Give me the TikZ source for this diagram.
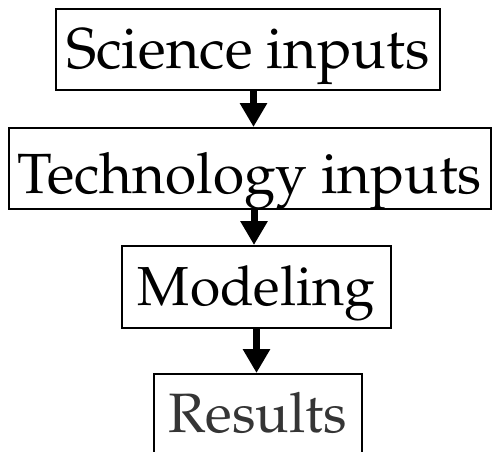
\documentclass[tikz,border=0pt]{standalone}
\usepackage[T1]{fontenc}
\usepackage{mathpazo}
\usetikzlibrary{arrows.meta}
\definecolor{resgray}{HTML}{353535}
\tikzset{
  box/.style={draw=black, line width=1.6pt, inner sep=0pt, anchor=north west},
  flow/.style={line width=7pt, -{Triangle[length=24pt,width=26pt]}},
}
\begin{document}
\begin{tikzpicture}[x=1pt,y=1pt]
\useasboundingbox (0,0) rectangle (493,-451);
\clip (0,0) rectangle (493,-451);
\node[box, minimum width=384pt, minimum height=81pt] (sci) at (55,-8) {};
\node[font=\fontsize{57.5}{64}\selectfont, anchor=base] (scit) at (sci.center |- 0,-68) {Science inputs};
\node[box, minimum width=482pt, minimum height=81pt] (tec) at (8,-127) {};
\node[font=\fontsize{56.7}{64}\selectfont, anchor=base] (tect) at (tec.center |- 0,-193) {Technology inputs};
\node[box, minimum width=269pt, minimum height=82pt] (mod) at (121,-245) {};
\node[font=\fontsize{55}{62}\selectfont, anchor=base] (modt) at (mod.center |- 0,-305) {Modeling};
\node[box, minimum width=208pt, minimum height=100pt] (res) at (153,-373) {};
\node[font=\fontsize{55.5}{62}\selectfont, text=resgray, anchor=base] (rest) at (res.center |- 0,-432) {Results};
\coordinate (ax1) at (253.5,0);
\coordinate (ax2) at (254,0);
\coordinate (ax3) at (256.5,0);
\draw[flow] (sci.south -| ax1) -- (tec.north -| ax1);
\draw[flow] (tec.south -| ax2) -- (mod.north -| ax2);
\draw[flow] (mod.south -| ax3) -- (res.north -| ax3);
\end{tikzpicture}
\end{document}
